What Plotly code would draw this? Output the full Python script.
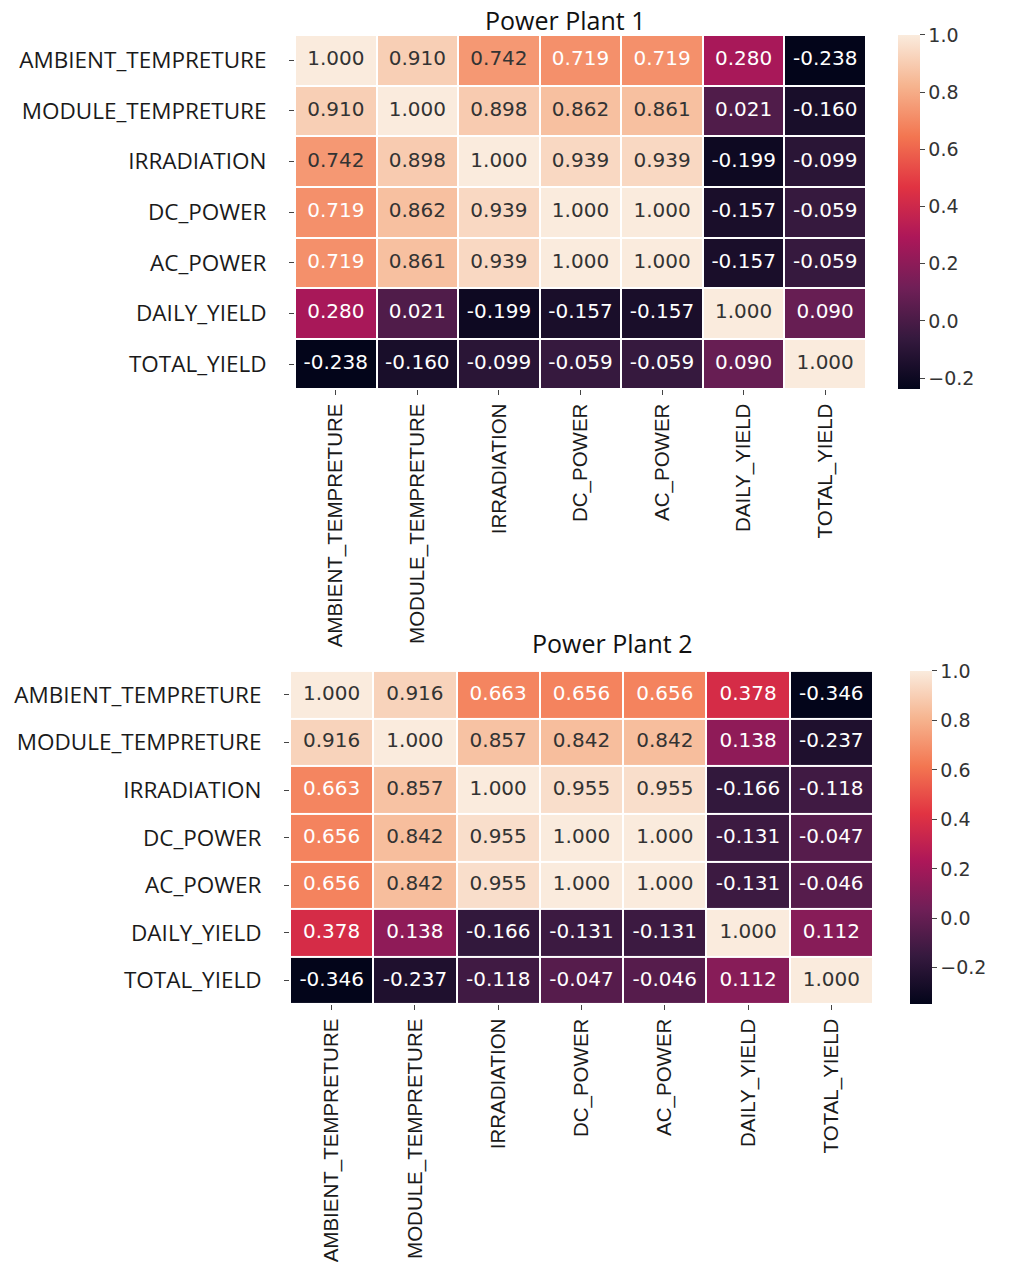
import plotly.graph_objects as go

labels = ["AMBIENT_TEMPRETURE", "MODULE_TEMPRETURE", "IRRADIATION",
          "DC_POWER", "AC_POWER", "DAILY_YIELD", "TOTAL_YIELD"]

plant1 = [
    [1.000, 0.910, 0.742, 0.719, 0.719, 0.280, -0.238],
    [0.910, 1.000, 0.898, 0.862, 0.861, 0.021, -0.160],
    [0.742, 0.898, 1.000, 0.939, 0.939, -0.199, -0.099],
    [0.719, 0.862, 0.939, 1.000, 1.000, -0.157, -0.059],
    [0.719, 0.861, 0.939, 1.000, 1.000, -0.157, -0.059],
    [0.280, 0.021, -0.199, -0.157, -0.157, 1.000, 0.090],
    [-0.238, -0.160, -0.099, -0.059, -0.059, 0.090, 1.000],
]

plant2 = [
    [1.000, 0.916, 0.663, 0.656, 0.656, 0.378, -0.346],
    [0.916, 1.000, 0.857, 0.842, 0.842, 0.138, -0.237],
    [0.663, 0.857, 1.000, 0.955, 0.955, -0.166, -0.118],
    [0.656, 0.842, 0.955, 1.000, 1.000, -0.131, -0.047],
    [0.656, 0.842, 0.955, 1.000, 1.000, -0.131, -0.046],
    [0.378, 0.138, -0.166, -0.131, -0.131, 1.000, 0.112],
    [-0.346, -0.237, -0.118, -0.047, -0.046, 0.112, 1.000],
]

titles = ["Power Plant 1", "Power Plant 2"]
cbar_ticks = [-0.2, 0.0, 0.2, 0.4, 0.6, 0.8, 1.0]

rocket = [
    [0.0, "#03051a"],
    [0.143, "#35193e"],
    [0.286, "#701f57"],
    [0.429, "#ad1759"],
    [0.571, "#e13342"],
    [0.714, "#f37651"],
    [0.857, "#f6b48f"],
    [1.0, "#faebdd"],
]

W, H = 1016, 1262


def fx(px):
    return px / W


def fy(py):
    return 1 - py / H


# pixel layout boxes in window coords: (left, right, top, bottom)
# title: (center x, center y)
panels = [
    dict(box=(295, 866, 35, 390), cb=898, title=(565, 20)),
    dict(box=(290, 873, 672, 1006), cb=910, title=(612, 644)),
]

fig = go.Figure()
annotations = []

for i, (data, p) in enumerate(zip([plant1, plant2], panels)):
    l, r, t, b = p["box"]
    xa = "x" if i == 0 else "x2"
    ya = "y" if i == 0 else "y2"
    flat = [v for row in data for v in row]
    zmin, zmax = min(flat), max(flat)
    fig.add_trace(go.Heatmap(
        z=data, x=labels, y=labels, xaxis=xa, yaxis=ya,
        colorscale=rocket, zmin=zmin, zmax=zmax, xgap=2, ygap=2,
        hoverinfo="skip",
        colorbar=dict(
            x=fx(p["cb"]), xanchor="left", y=fy(t), yanchor="top",
            len=(b - t) / H, lenmode="fraction", thickness=22,
            xpad=0, ypad=0, outlinewidth=0, ticks="outside", ticklen=5,
            tickcolor="#444", tickvals=cbar_ticks, tickformat=".1f",
            tickfont=dict(family="DejaVu Sans", size=19, color="#333"),
        ),
    ))
    xs, ys, txt, cols = [], [], [], []
    for ri, row in enumerate(data):
        for ci, v in enumerate(row):
            xs.append(labels[ci])
            ys.append(labels[ri])
            txt.append(f"{v:.3f}")
            norm = (v - zmin) / (zmax - zmin)
            cols.append("#333333" if norm > 0.78 else "#ffffff")
    fig.add_trace(go.Scatter(
        x=xs, y=ys, xaxis=xa, yaxis=ya, mode="text", text=txt,
        textfont=dict(family="DejaVu Sans", size=20, color=cols),
        hoverinfo="skip", showlegend=False,
    ))
    axis_common = dict(showgrid=False, zeroline=False, showline=False,
                       ticks="outside", ticklen=5, tickcolor="#444")
    fig.layout[("xaxis" if i == 0 else "xaxis2")] = dict(
        domain=[fx(l), fx(r)], anchor=ya, range=[-0.5, 6.5],
        tickangle=-90, side="bottom",
        tickfont=dict(family="Liberation Sans", size=20.5, color="#1a1a1a"),
        **axis_common)
    fig.layout[("yaxis" if i == 0 else "yaxis2")] = dict(
        domain=[fy(b), fy(t)], anchor=xa, range=[6.5, -0.5],
        ticklabelstandoff=18,
        tickfont=dict(family="Open Sans", size=22.5, color="#1a1a1a"),
        **axis_common)
    tx, ty = p["title"]
    annotations.append(dict(
        text=titles[i], x=fx(tx), y=fy(ty), xref="paper", yref="paper",
        xanchor="center", yanchor="middle", showarrow=False,
        font=dict(family="Open Sans", size=25, color="#111"),
        borderpad=0,
    ))

fig.update_layout(
    width=W, height=H, margin=dict(l=0, r=0, t=0, b=0),
    paper_bgcolor="white", plot_bgcolor="white",
    showlegend=False, annotations=annotations,
)

fig.write_html("out.html", config={"displayModeBar": False},
               post_script="document.body.style.margin='0px';")
